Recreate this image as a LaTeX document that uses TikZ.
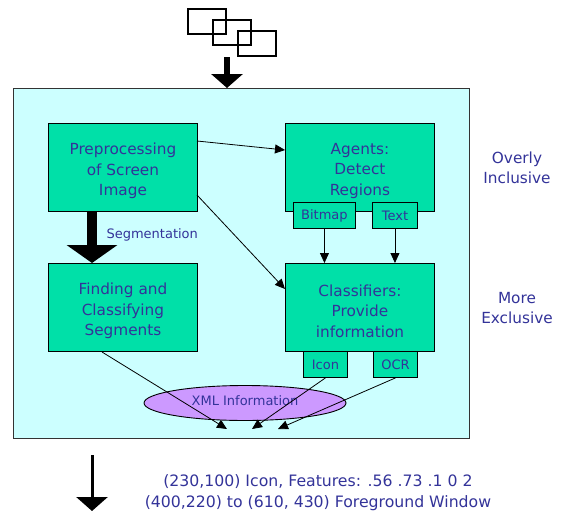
\documentclass[tikz,border=0pt]{standalone}
\usepackage{fontspec}
\setmainfont{DejaVu Sans}
\usetikzlibrary{arrows.meta}
\definecolor{panelcyan}{RGB}{204,255,255}
\definecolor{boxgreen}{RGB}{0,224,168}
\definecolor{txtblue}{RGB}{51,51,153}
\definecolor{xmlviolet}{RGB}{204,153,255}
\begin{document}
\begin{tikzpicture}[x=1pt,y=-1pt,
  bigtxt/.style={font=\fontsize{15.3}{20.5}\selectfont, text=txtblue},
  smalltxt/.style={font=\fontsize{13}{15}\selectfont, text=txtblue},
  stagebox/.style={draw=black, line width=0.9pt, fill=boxgreen,
    minimum width=149pt, minimum height=88pt, inner sep=0pt,
    anchor=north west},
  stagetext/.style={bigtxt, align=center, yshift=-3.5pt},
  tabbox/.style={draw=black, line width=0.9pt, fill=boxgreen, smalltxt,
    minimum height=26pt, inner sep=0pt, anchor=north west},
  thin arrow/.style={draw=black, line width=0.8pt,
    -{Triangle[width=9pt,length=10pt]}},
  frame/.style={draw=black, line width=1.1pt}]
\useasboundingbox (0,0) rectangle (562,514);

% stack of screen images at the top
\foreach \xx/\yy in {188/9, 213/20, 238/31}
  \draw[frame] (\xx,\yy) rectangle ++(38,25);
\coordinate (stacktail) at (227,57);

% main panel
\node[draw=black!80, line width=1.3pt, fill=panelcyan, minimum width=456pt,
  minimum height=350pt, inner sep=0pt, anchor=north west] (panel) at (13,88) {};

\draw[line width=6pt, -{Triangle[width=31pt,length=14pt]}]
  (stacktail) -- (stacktail |- panel.north);

% processing stages
\node[stagebox] (prep) at (48,123) {};
\node[stagebox] (find) at (48,263) {};
\node[stagebox] (agents) at (285,123) {};
\node[stagebox] (classif) at (285,263) {};
\node[stagetext] (preptext) at (prep.center) {Preprocessing\\of Screen\\Image};
\node[stagetext] (findtext) at (find.center) {Finding and\\Classifying\\Segments};
\node[stagetext] (agentstext) at (agents.center) {Agents:\\Detect\\Regions};
\node[stagetext] (classiftext) at (classif.center) {Classifiers:\\Provide\\information};

% tabs attached to the agent and classifier boxes
\node[tabbox, minimum width=62pt] (bitmap) at (293,202) {Bitmap};
\node[tabbox, minimum width=45pt] (textt) at (372,202) {Text};
\node[tabbox, minimum width=44pt] (icon) at (303,351) {Icon};
\node[tabbox, minimum width=44pt] (ocr) at (373,351) {OCR};

% result ellipse
\draw[draw=black, line width=0.9pt, fill=xmlviolet] (245,403) ellipse [x radius=101, y radius=17.5];
\node[smalltxt] (xml) at (245,401) {XML Information};

% segmentation step
\coordinate (segtail) at (92,211);
\draw[line width=10pt, -{Triangle[width=50pt,length=18pt]}]
  (segtail) -- (segtail |- find.north);
\node[smalltxt, anchor=west] (seglabel) at (103,235) {Segmentation};

% connectors
\draw[thin arrow] (197,141) -- (agents.west |- 0,150);
\draw[thin arrow] (197,195) -- (classif.west |- 0,289);
\draw[thin arrow] (bitmap.south) -- (bitmap.south |- classif.north);
\draw[thin arrow] (textt.south) -- (textt.south |- classif.north);
\coordinate (tipA) at (227,429);
\coordinate (tipB) at (252,429);
\coordinate (tipC) at (278,429);
\draw[thin arrow] (102,352) -- (tipA);
\draw[thin arrow] (icon.south) -- (tipB);
\draw[thin arrow] (ocr.south) -- (tipC);

% side labels
\node[bigtxt, align=center] (overly) at (517,168) {Overly\\Inclusive};
\node[bigtxt, align=center] (moreex) at (517,308) {More\\Exclusive};

% output
\coordinate (outtop) at (92,455);
\coordinate (outtip) at (92,511);
\draw[line width=3pt, -{Triangle[width=31pt,length=14pt]}] (outtop) -- (outtip);
\node[bigtxt, align=center, font=\fontsize{15.7}{21}\selectfont] (output) at (318,493)
  {(230,100) Icon, Features: .56 .73 .1 0 2\\(400,220) to (610, 430) Foreground Window};
\end{tikzpicture}
\end{document}
